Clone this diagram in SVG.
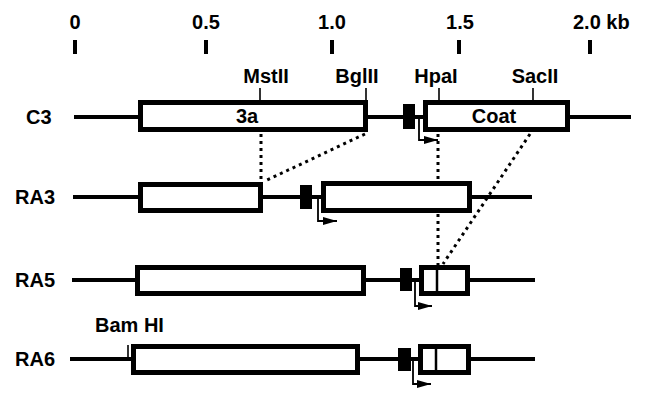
<svg xmlns="http://www.w3.org/2000/svg" width="649" height="403" viewBox="0 0 649 403">
<style>
.t{font-family:"Liberation Sans",Arial,Helvetica,sans-serif;font-weight:bold;font-size:20px;fill:#000}
.m{text-anchor:middle}
.ln{stroke:#000;stroke-width:4;fill:none}
.box{fill:#fff;stroke:#000;stroke-width:5}
.blk{fill:#000}
.tk{stroke:#000;stroke-width:1.6}
.sc{fill:#000}
.div{stroke:#000;stroke-width:2.5}
.pr{stroke:#000;stroke-width:1.8;fill:none;marker-end:url(#ah)}
.dot{stroke:#000;stroke-width:3;stroke-dasharray:3 4;fill:none}
</style>
<defs>
<marker id="ah" viewBox="0 0 14 8" refX="14" refY="4" markerWidth="14" markerHeight="8" markerUnits="userSpaceOnUse" orient="auto">
<path d="M0,0 L14,4 L0,8 z" fill="#000"/>
</marker>
</defs>
<rect width="649" height="403" fill="#fff"/>
<g id="scale">
<text class="t m" x="75" y="29">0</text>
<text class="t m" x="206" y="29">0.5</text>
<text class="t m" x="332" y="29">1.0</text>
<text class="t m" x="460" y="29">1.5</text>
<text class="t" x="573" y="29">2.0 kb</text>
<rect class="sc" x="73" y="40" width="4" height="14"/>
<rect class="sc" x="204" y="40" width="4" height="14"/>
<rect class="sc" x="330" y="40" width="4" height="14"/>
<rect class="sc" x="457" y="40" width="4" height="14"/>
<rect class="sc" x="588" y="40" width="4" height="14"/>
</g>
<g id="C3">
<text class="t" x="26" y="124">C3</text>
<line class="ln" x1="74" y1="117" x2="631" y2="117"/>
<rect class="box" x="140.5" y="102.5" width="225" height="27"/>
<rect class="blk" x="403" y="104" width="12" height="25"/>
<rect class="box" x="425.5" y="102.5" width="142" height="27"/>
<text class="t m" x="247" y="123">3a</text>
<text class="t m" x="494" y="123">Coat</text>
<line class="tk" x1="260" y1="88" x2="260" y2="100"/>
<line class="tk" x1="366" y1="88" x2="366" y2="100"/>
<line class="tk" x1="439" y1="88" x2="439" y2="100"/>
<line class="tk" x1="533" y1="88" x2="533" y2="100"/>
<text class="t m" x="266" y="83">MstII</text>
<text class="t m" x="357" y="83">BglII</text>
<text class="t m" x="436" y="83">HpaI</text>
<text class="t m" x="535" y="83">SacII</text>
<path class="pr" d="M419,119 V140 H438"/>
</g>
<g id="RA3">
<text class="t" x="15" y="204">RA3</text>
<line class="ln" x1="73" y1="197" x2="532" y2="197"/>
<rect class="box" x="140.5" y="184.5" width="120" height="26"/>
<rect class="blk" x="300" y="185" width="12" height="24"/>
<rect class="box" x="323.5" y="183.5" width="146" height="27"/>
<path class="pr" d="M318,199 V221 H337"/>
</g>
<g id="RA5">
<text class="t" x="15" y="287">RA5</text>
<line class="ln" x1="72" y1="280" x2="535" y2="280"/>
<rect class="box" x="137.5" y="267.5" width="226" height="26"/>
<rect class="blk" x="400" y="268" width="12" height="23"/>
<rect class="box" x="421.5" y="267.5" width="46" height="26"/>
<line class="div" x1="437" y1="268" x2="437" y2="293"/>
<path class="pr" d="M415,282 V306 H432"/>
</g>
<g id="RA6">
<text class="t" x="15" y="366">RA6</text>
<text class="t" x="95" y="332">Bam HI</text>
<line class="tk" x1="128" y1="345" x2="128" y2="359"/>
<line class="ln" x1="70" y1="359" x2="535" y2="359"/>
<rect class="box" x="133.5" y="346.5" width="224" height="26"/>
<rect class="blk" x="398" y="348" width="13" height="23"/>
<rect class="box" x="420.5" y="346.5" width="48" height="26"/>
<line class="div" x1="436" y1="347" x2="436" y2="372"/>
<path class="pr" d="M413,361 V384 H431"/>
</g>
<g id="connectors">
<line class="dot" x1="261" y1="134" x2="261" y2="181"/>
<line class="dot" x1="365" y1="134" x2="265" y2="181"/>
<line class="dot" x1="438" y1="134" x2="438" y2="181"/>
<line class="dot" x1="438" y1="214" x2="438" y2="265"/>
<line class="dot" x1="530" y1="134" x2="443" y2="264"/>
</g>
</svg>
